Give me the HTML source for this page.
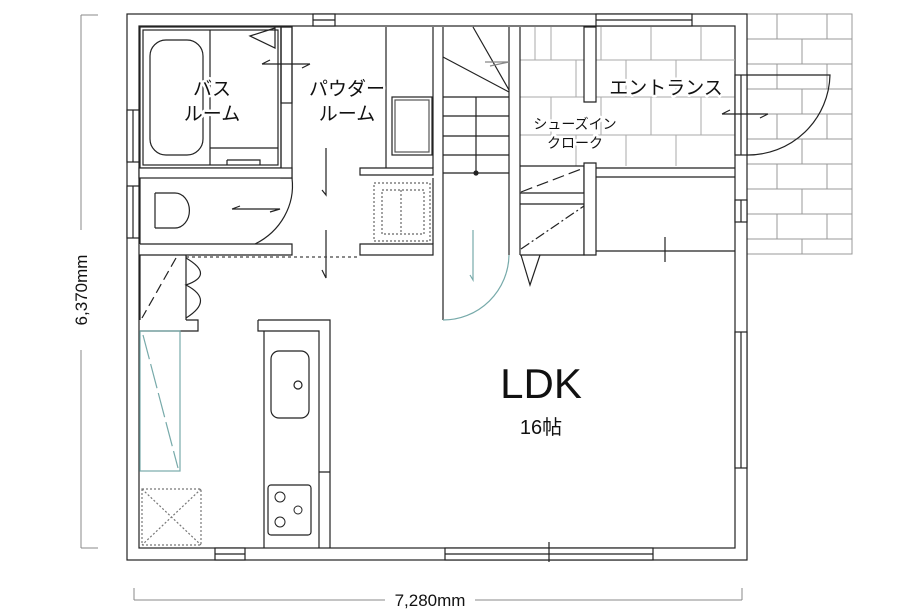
<!DOCTYPE html>
<html><head><meta charset="utf-8"><style>
html,body{margin:0;padding:0;background:#fff;}
svg{display:block;}
text{font-family:"Liberation Sans","Noto Sans CJK JP",sans-serif;fill:#111;}
.lbl{paint-order:stroke;stroke:#fff;stroke-width:5px;stroke-linejoin:round;}
</style></head><body>
<svg width="899" height="616" viewBox="0 0 899 616" xmlns="http://www.w3.org/2000/svg">
<g fill="none" stroke="#999" stroke-width="1">
<rect x="747" y="14" width="105" height="240"/>
<path d="M747 39H852M747 64H852M747 89H852M747 114H852M747 139H852M747 164H852M747 189H852M747 214H852M747 239H852"/>
<path d="M777 14V39M802 39V64M827 14V39M777 64V89M827 64V89M802 89V114M777 114V139M827 114V139M802 139V164M777 164V189M827 164V189M802 189V214M777 214V239M827 214V239M802 239V254"/>
</g>
<g fill="none" stroke="#222" stroke-width="1.2">
<rect x="127" y="14" width="620" height="546" fill="#fff"/>
<rect x="139" y="26" width="596" height="522"/>
</g>
<g fill="none" stroke="#aaa" stroke-width="1">
<path d="M520 60H735M520 97H735M520 135H735M520 166H584"/>
<path d="M551 27V60M601 27V60M651 27V60M701 27V60M576 60V97M626 60V97M676 60V97M551 97V135M601 97V135M651 97V135M701 97V135M576 135V166M626 135V166M676 135V166M535 27V60"/>
</g>
<g fill="none" stroke="#222" stroke-width="1.2">
<rect x="313" y="14" width="22" height="12" fill="#fff"/><path d="M313 20H335"/>
<rect x="596" y="14" width="96" height="12" fill="#fff"/><path d="M596 20H692"/>
<rect x="127" y="110" width="12" height="52" fill="#fff"/><path d="M133 110V162"/>
<rect x="127" y="186" width="12" height="52" fill="#fff"/><path d="M133 186V238"/>
<rect x="215" y="548" width="30" height="12" fill="#fff"/><path d="M215 554H245"/>
<rect x="445" y="548" width="208" height="12" fill="#fff"/><path d="M445 554H653M549 542V562"/>
<rect x="735" y="332" width="12" height="136" fill="#fff"/><path d="M741 332V468"/>
<rect x="735" y="200" width="12" height="22" fill="#fff"/><path d="M741 200V222"/>
<rect x="735" y="75" width="12" height="80" fill="#fff"/><path d="M741 75V155"/>
<path d="M747 75H830A82 82 0 0 1 747 155"/>
<path d="M722 114H768M722 114L730 110M768 114L760 118"/>
<rect x="140" y="27" width="141" height="141"/>
<rect x="143" y="30" width="135" height="135"/>
<rect x="150" y="40" width="53" height="115" rx="16"/>
<path d="M210 30V165M210 148H278M227 160V165M227 160H260V165"/>
<path d="M250 36L275 28V48Z"/>
<path d="M262 64L270 60M262 64H310M310 64L302 68"/>
<rect x="281" y="27" width="11" height="76"/>
<rect x="281" y="27" width="11" height="151"/>
<rect x="139" y="168" width="153" height="10" fill="#fff"/>
<path d="M140 178V244M140 244H292V255H139"/>
<path d="M155 193V228M155 193H175A14 17 0 0 1 175 228H155"/>
<path d="M292 178A70 66 0 0 1 255 244"/>
<path d="M232 209L240 206M232 209H280L270 212"/>
<path d="M386 27V168M433 27V168M443 27V255"/>
<rect x="392" y="97" width="40" height="58"/>
<rect x="395" y="100" width="34" height="52" stroke="#555"/>
<path d="M360 168H433V175H360Z"/>
<path d="M360 244H433V255H360Z"/>
<path d="M433 178V244"/>
<rect x="374" y="183" width="56" height="58" stroke-dasharray="2 2" stroke="#666"/>
<rect x="382" y="190" width="42" height="44" stroke-dasharray="2 2" stroke="#666"/>
<path d="M401 190V234" stroke-dasharray="2 2" stroke="#666"/>
<path d="M326 148V195L322 190M326 230V278L322 270"/>
<path d="M186 257H360" stroke-dasharray="3 3" stroke="#444"/>
<path d="M140 255V320M186 255V320M186 320H198V331H140"/>
<path d="M176 258L142 318" stroke-dasharray="10 5"/>
<path d="M186 258Q215 275 186 285Q215 300 186 318"/>
<rect x="140" y="331" width="40" height="140" stroke="#7aa"/>
<path d="M143 335L178 468" stroke="#7aa" stroke-dasharray="25 5"/>
<rect x="142" y="489" width="59" height="56" stroke="#777" stroke-dasharray="2 2"/>
<path d="M142 489L201 545M201 489L142 545" stroke="#777" stroke-dasharray="2 2"/>
<path d="M258 320H330V548M258 320V331H264V548M264 331H319V548M319 472H330"/>
<rect x="271" y="351" width="38" height="67" rx="8"/>
<circle cx="298" cy="385" r="4"/>
<rect x="268" y="485" width="43" height="50" rx="3"/>
<g stroke-width="1"><circle cx="280" cy="497" r="5"/><circle cx="280" cy="522" r="5"/><circle cx="298" cy="510" r="4"/></g>
<path d="M509 27V255M520 27V255"/>
<path d="M443 97H509M443 116H509M443 136H509M443 155H509M443 173H509M476 97V173"/>
<path d="M443 57L509 92M473 27L509 90"/>
<path d="M485 62H509L490 66" stroke="#888"/>
<circle cx="476" cy="173" r="2" fill="#222"/>
<path d="M443 255V320"/>
<path d="M509 255A66 66 0 0 1 443 320" stroke="#7aa"/>
<path d="M473 230V280L470 275" stroke="#7aa"/>
<path d="M584 27H596V102H584Z" fill="#fff"/>
<path d="M520 166H584V193H520M520 204H584V255H520"/>
<path d="M584 163H596V255H584Z" fill="#fff"/>
<path d="M521 192L584 168" stroke-dasharray="12 5"/>
<path d="M521 249L584 206" stroke-dasharray="10 3 2 3"/>
<path d="M521 255L530 285L540 255"/>
<path d="M596 168H735M596 177H735"/>
<path d="M596 251H735M665 237V262"/>
</g>
<g stroke="#888" stroke-width="1" fill="none">
<path d="M81 15V230M81 350V548M81 15H98M81 548H98"/>
<path d="M134 600H385M475 600H742M134 588V600M742 588V600"/>
</g>
<text x="0" y="0" font-size="17" text-anchor="middle" transform="translate(87 290) rotate(-90)">6,370mm</text>
<text x="430" y="606" font-size="17" text-anchor="middle">7,280mm</text>
<text class="lbl" x="212" y="95" font-size="19" text-anchor="middle">バス</text>
<text class="lbl" x="212" y="120" font-size="19" text-anchor="middle">ルーム</text>
<text class="lbl" x="347" y="95" font-size="19" text-anchor="middle">パウダー</text>
<text class="lbl" x="347" y="120" font-size="19" text-anchor="middle">ルーム</text>
<text class="lbl" x="666" y="94" font-size="19" text-anchor="middle">エントランス</text>
<text class="lbl" x="575" y="129" font-size="14" text-anchor="middle">シューズイン</text>
<text class="lbl" x="575" y="148" font-size="14" text-anchor="middle">クローク</text>
<text x="541" y="398" font-size="42" text-anchor="middle">LDK</text>
<text x="541" y="434" font-size="20" text-anchor="middle">16帖</text>
</svg>
</body></html>
